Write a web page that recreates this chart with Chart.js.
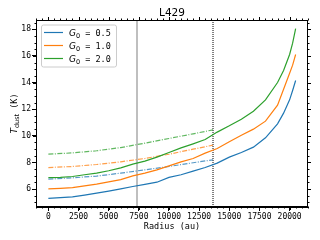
<!DOCTYPE html>
<html>
<head>
<meta charset="utf-8">
<script src="https://cdn.jsdelivr.net/npm/chart.js@4"></script>
<style>
  html, body { margin: 0; padding: 0; background: #fff; }
</style>
</head>
<body>
<canvas id="grafico" width="320" height="240"></canvas>
<script>
// Radios (au) y temperaturas
let radio = [0, 1000, 2000, 3000, 4000, 5000, 6000, 7000, 8000, 9000, 10000, 11000, 12000, 13000, 14000, 15000, 16000, 17000, 18000, 19000, 19500, 20000, 20250, 20500];
let t_g05 = [5.30, 5.36, 5.42, 5.55, 5.70, 5.85, 6.02, 6.20, 6.36, 6.52, 6.88, 7.08, 7.35, 7.62, 7.95, 8.40, 8.75, 9.15, 9.85, 10.90, 11.70, 12.70, 13.40, 14.15];
let t_g10 = [6.02, 6.06, 6.12, 6.25, 6.38, 6.55, 6.72, 7.00, 7.20, 7.45, 7.75, 8.05, 8.30, 8.70, 9.05, 9.55, 10.05, 10.50, 11.10, 12.30, 13.50, 14.70, 15.30, 16.10];
let t_g20 = [6.87, 6.88, 6.95, 7.08, 7.20, 7.38, 7.60, 7.88, 8.10, 8.40, 8.75, 9.10, 9.40, 9.72, 10.28, 10.75, 11.25, 11.85, 12.70, 14.00, 14.90, 16.10, 16.95, 18.05];

// Curvas de trazo y punto (hasta la línea punteada)
let radio_dd = [0, 2000, 4000, 6000, 8000, 10000, 12000, 13650];
let td_g05 = [6.75, 6.85, 6.98, 7.20, 7.45, 7.70, 7.98, 8.20];
let td_g10 = [7.62, 7.70, 7.85, 8.05, 8.30, 8.62, 9.00, 9.30];
let td_g20 = [8.62, 8.72, 8.88, 9.12, 9.45, 9.80, 10.15, 10.45];

let etiquetas = ["0.5", "1.0", "2.0"];
let colores = ["#1f77b4", "#ff7f0e", "#2ca02c"];
let colores_dd = ["rgba(31,119,180,0.75)", "rgba(255,127,14,0.75)", "rgba(44,160,44,0.75)"];

let ticks_x = [0, 2500, 5000, 7500, 10000, 12500, 15000, 17500, 20000];
let ticks_y = [6, 8, 10, 12, 14, 16, 18];

let linea_gris = 7350;
let linea_punteada = 13650;

const x_min = -1025, x_max = 21525;
const y_min = 4.66, y_max = 18.69;

function puntos(xs, ys) {
  return xs.map((x, i) => ({ x: x, y: ys[i] }));
}

// Marcas menores y mayores en los cuatro lados
const marcas = {
  id: 'marcas',
  afterDraw(chart) {
    const ctx = chart.ctx, a = chart.chartArea;
    const sx = chart.scales.x, sy = chart.scales.y;
    const L = Math.round(a.left) + 0.5, R = Math.round(a.right) - 0.5;
    const T = Math.round(a.top) + 0.5, B = Math.round(a.bottom) - 0.5;
    ctx.save();
    ctx.strokeStyle = '#000';
    ctx.lineWidth = 1;
    ctx.strokeRect(L, T, R - L, B - T);
    ctx.beginPath();
    for (let v = -1000; v <= x_max; v += 500) {
      const p = Math.round(sx.getPixelForValue(v)) + 0.5;
      const len = (v % 2500 === 0) ? 3.5 : 2;
      ctx.moveTo(p, B); ctx.lineTo(p, B + len);
      ctx.moveTo(p, T); ctx.lineTo(p, T - len);
    }
    for (let v = 5; v <= y_max; v += 0.5) {
      const p = Math.round(sy.getPixelForValue(v)) + 0.5;
      const len = (Math.abs(v % 2) < 1e-6) ? 3.5 : 2;
      ctx.moveTo(L, p); ctx.lineTo(L - len, p);
      ctx.moveTo(R, p); ctx.lineTo(R + len, p);
    }
    ctx.stroke();

    // Leyenda
    const lx = 41, ly = 24.5, lw = 75, lh = 42;
    ctx.beginPath();
    ctx.roundRect(lx + 0.5, ly + 0.5, lw, lh, 2);
    ctx.fillStyle = 'rgba(255,255,255,0.8)';
    ctx.fill();
    ctx.strokeStyle = '#cccccc';
    ctx.stroke();
    etiquetas.forEach((et, i) => {
      const yy = 32.5 + i * 13;
      ctx.strokeStyle = colores[i];
      ctx.lineWidth = 1.2;
      ctx.beginPath();
      ctx.moveTo(44, yy); ctx.lineTo(63, yy);
      ctx.stroke();
      ctx.fillStyle = '#000';
      ctx.textBaseline = 'alphabetic';
      ctx.textAlign = 'left';
      ctx.font = 'italic 9px "DejaVu Sans"';
      ctx.fillText('G', 69, yy + 3.5);
      let w = ctx.measureText('G').width;
      ctx.font = '6.5px "DejaVu Sans"';
      ctx.fillText('0', 69 + w, yy + 5.5);
      w += ctx.measureText('0').width;
      ctx.font = '8.5px "DejaVu Sans Mono"';
      ctx.fillText(' = ' + et, 69 + w, yy + 3.5);
    });

    // Título del eje y
    ctx.translate(14, (a.top + a.bottom) / 2);
    ctx.rotate(-Math.PI / 2);
    ctx.font = 'italic 9px "DejaVu Sans"';
    const wT = ctx.measureText('T').width;
    ctx.font = '6.5px "DejaVu Sans"';
    const wD = ctx.measureText('dust').width;
    ctx.font = '8.5px "DejaVu Sans Mono"';
    const wK = ctx.measureText(' (K)').width;
    let x0 = -(wT + wD + wK) / 2;
    ctx.fillStyle = '#000';
    ctx.font = 'italic 9px "DejaVu Sans"';
    ctx.fillText('T', x0, 3);
    ctx.font = '6.5px "DejaVu Sans"';
    ctx.fillText('dust', x0 + wT, 5);
    ctx.font = '8.5px "DejaVu Sans Mono"';
    ctx.fillText(' (K)', x0 + wT + wD, 3);
    ctx.restore();
  }
};

let conjuntos = [
  {
    data: puntos([linea_gris, linea_gris], [y_min, y_max]),
    borderColor: 'rgba(128,128,128,0.5)', borderWidth: 2, order: 10
  },
  {
    data: puntos([linea_punteada, linea_punteada], [y_min, y_max]),
    borderColor: '#000', borderWidth: 1, borderDash: [1, 1], order: 10
  }
];
[t_g05, t_g10, t_g20].forEach((serie, i) => {
  conjuntos.push({ data: puntos(radio, serie), borderColor: colores[i], borderWidth: 1.2, order: 1 });
});
[td_g05, td_g10, td_g20].forEach((serie, i) => {
  conjuntos.push({ data: puntos(radio_dd, serie), borderColor: colores_dd[i], borderWidth: 1.2, borderDash: [5, 1.5, 1, 1.5], order: 2 });
});

Chart.defaults.font.family = '"DejaVu Sans Mono"';
Chart.defaults.color = '#000';

new Chart(document.getElementById('grafico'), {
  type: 'line',
  data: { datasets: conjuntos },
  options: {
    responsive: false,
    animation: false,
    devicePixelRatio: 1,
    elements: { point: { radius: 0 }, line: { tension: 0, fill: false } },
    layout: { padding: { left: 0, right: 12, top: 0, bottom: 0 } },
    plugins: {
      legend: { display: false },
      tooltip: { enabled: false },
      title: {
        display: true,
        text: 'L429',
        fullSize: false,
        color: '#000',
        font: { family: '"DejaVu Sans"', size: 10.5, weight: 'normal', lineHeight: 1.2 },
        padding: { top: 7, bottom: 0.4 }
      }
    },
    scales: {
      x: {
        type: 'linear',
        min: x_min,
        max: x_max,
        afterFit: (s) => { s.height = 33; },
        afterBuildTicks: (s) => { s.ticks = ticks_x.map(v => ({ value: v })); },
        grid: { display: true, drawOnChartArea: false, drawTicks: true, tickLength: 4, tickColor: '#000' },
        border: { display: true, color: '#000' },
        ticks: { autoSkip: false, maxRotation: 0, padding: 1, font: { size: 8 }, callback: (v) => String(v) },
        title: { display: true, text: 'Radius (au)', font: { size: 8.5 }, padding: { top: 0, bottom: 8 } }
      },
      y: {
        type: 'linear',
        min: y_min,
        max: y_max,
        afterFit: (s) => { s.width = 36; },
        afterBuildTicks: (s) => { s.ticks = ticks_y.map(v => ({ value: v })); },
        grid: { display: true, drawOnChartArea: false, drawTicks: true, tickLength: 4, tickColor: '#000' },
        border: { display: true, color: '#000' },
        ticks: { autoSkip: false, padding: 1, font: { size: 8 }, callback: (v) => String(v) }
      }
    }
  },
  plugins: [marcas]
});
</script>
</body>
</html>
